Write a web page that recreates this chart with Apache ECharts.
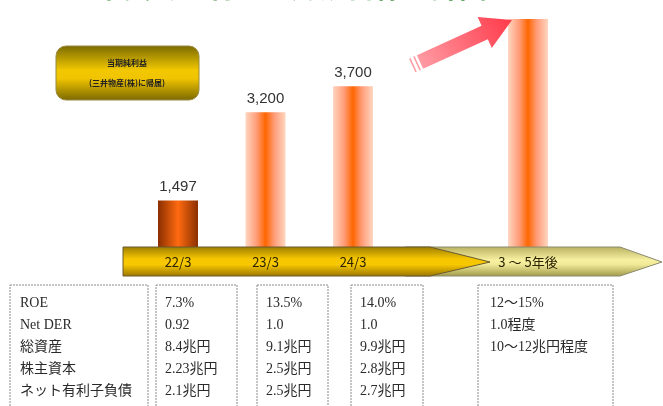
<!DOCTYPE html>
<html>
<head>
<meta charset="utf-8">
<script src="https://cdn.jsdelivr.net/npm/echarts@6/dist/echarts.min.js"></script>
<style>
html,body{margin:0;padding:0;background:#fff;}
#c{width:663px;height:406px;}
</style>
</head>
<body>
<div id="c"></div>
<script>
// ---- data ----
var categories = ['22/3', '23/3', '24/3', '', '3 ～ 5年後'];
var profitValues = [1497, 3200, 3700, null, 5000];
var valueLabels = ['1,497', '3,200', '3,700', '', ''];
var legendLines = ['当期純利益', '(三井物産(株)に帰属)'];
var titleText = '中長期の利益・財務目標の計画';
var metricNames = ['ROE', 'Net DER', '総資産', '株主資本', 'ネット有利子負債'];
var col2203 = ['7.3%', '0.92', '8.4兆円', '2.23兆円', '2.1兆円'];
var col2303 = ['13.5%', '1.0', '9.1兆円', '2.5兆円', '2.5兆円'];
var col2403 = ['14.0%', '1.0', '9.9兆円', '2.8兆円', '2.7兆円'];
var colFuture = ['12～15%', '1.0程度', '10～12兆円程度'];

var chart = echarts.init(document.getElementById('c'));

function barGrad(dark) {
  if (dark) {
    return new echarts.graphic.LinearGradient(0, 0, 1, 0, [
      {offset: 0, color: '#8a2e00'}, {offset: 0.5, color: '#ff6a10'}, {offset: 1, color: '#8a3000'}
    ]);
  }
  return new echarts.graphic.LinearGradient(0, 0, 1, 0, [
    {offset: 0, color: '#ffd6c0'}, {offset: 0.28, color: '#ff9c78'}, {offset: 0.5, color: '#ff6600'},
    {offset: 0.72, color: '#ff9c78'}, {offset: 1, color: '#ffd6c0'}
  ]);
}

var barData = profitValues.map(function (v, i) {
  return {
    value: v,
    itemStyle: {color: barGrad(i === 0)},
    label: {show: !!valueLabels[i], formatter: valueLabels[i]}
  };
});

var serifFont = '"Liberation Serif", "Noto Sans CJK JP", serif';
var cols = [
  {x0: 10, x1: 148, tx: 20, rows: metricNames},
  {x0: 156, x1: 237, tx: 165, rows: col2203},
  {x0: 257, x1: 328, tx: 266, rows: col2303},
  {x0: 351, x1: 423, tx: 360, rows: col2403},
  {x0: 478, x1: 613, tx: 490, rows: colFuture}
];
var rowY = [303, 325, 347, 369, 391];
var graphics = [];

// title (mostly cut off at top)
graphics.push({type: 'text', x: 95, y: 1.5, z: 5,
  style: {text: titleText, fill: '#3a8f3a', font: 'bold 28px "Noto Sans CJK JP"', textVerticalAlign: 'bottom'}});

// legend box
graphics.push({type: 'rect', shape: {x: 56, y: 46, width: 143, height: 54, r: 10}, z: 5,
  style: {fill: new echarts.graphic.LinearGradient(0, 0, 0, 1, [
    {offset: 0, color: '#7a6a00'}, {offset: 0.45, color: '#f2c800'}, {offset: 0.6, color: '#f0c400'}, {offset: 1, color: '#7a6800'}
  ]), stroke: '#9a8a40', lineWidth: 1}});
graphics.push({type: 'text', x: 127, y: 63, z: 6,
  style: {text: legendLines[0], fill: '#222', font: 'bold 8px "Noto Sans CJK JP"', textAlign: 'center', textVerticalAlign: 'middle'}});
graphics.push({type: 'text', x: 127, y: 83, z: 6,
  style: {text: legendLines[1], fill: '#222', font: 'bold 8px "Noto Sans CJK JP"', textAlign: 'center', textVerticalAlign: 'middle'}});

// pale arrow
graphics.push({type: 'polygon', z: 3,
  shape: {points: [[405, 247], [620, 247], [662, 262], [620, 276], [405, 276]]},
  style: {fill: new echarts.graphic.LinearGradient(0, 0, 0, 1, [
    {offset: 0, color: '#b8b060'}, {offset: 0.45, color: '#f6f0a0'}, {offset: 0.6, color: '#f0ea98'}, {offset: 1, color: '#a09848'}
  ]), stroke: '#8a8a70', lineWidth: 1}});
// golden arrow
graphics.push({type: 'polygon', z: 4,
  shape: {points: [[123, 247], [430, 247], [490, 262], [430, 276], [123, 276]]},
  style: {fill: new echarts.graphic.LinearGradient(0, 0, 0, 1, [
    {offset: 0, color: '#9a7c00'}, {offset: 0.4, color: '#f4c400'}, {offset: 0.6, color: '#f8c800'}, {offset: 1, color: '#9a7400'}
  ]), stroke: '#6a5a30', lineWidth: 1}});

// red arrow
(function () {
  var T = [420, 62], P = [512, 20];
  var dx = P[0] - T[0], dy = P[1] - T[1], L = Math.sqrt(dx * dx + dy * dy);
  var u = [dx / L, dy / L], n = [-u[1], u[0]];
  function pt(base, a, b) { return [base[0] + u[0] * a + n[0] * b, base[1] + u[1] * a + n[1] * b]; }
  var hl = 30, sw = 7.5, hw = 17;
  var grad = new echarts.graphic.LinearGradient(0, 1, 1, 0, [
    {offset: 0, color: '#ffa0a8'}, {offset: 1, color: '#ff3848'}
  ]);
  graphics.push({type: 'polygon', z: 5, shape: {points: [
    pt(T, 0, -sw), pt(T, L - hl, -sw), pt(T, L - hl, -hw), P, pt(T, L - hl, hw), pt(T, L - hl, sw), pt(T, 0, sw)
  ]}, style: {fill: grad}});
  [[-4, -2.5], [-8.5, -7]].forEach(function (s) {
    graphics.push({type: 'polygon', z: 5, shape: {points: [
      pt(T, s[0], -sw), pt(T, s[1], -sw), pt(T, s[1], sw), pt(T, s[0], sw)
    ]}, style: {fill: '#ff98a0'}});
  });
})();

// table
cols.forEach(function (c) {
  graphics.push({type: 'rect', z: 2, shape: {x: c.x0, y: 285, width: c.x1 - c.x0, height: 140},
    style: {fill: 'none', stroke: '#8a8a8a', lineWidth: 1, lineDash: [2, 1]}});
  c.rows.forEach(function (t, i) {
    graphics.push({type: 'text', x: c.tx, y: rowY[i], z: 3,
      style: {text: t, fill: '#2a2a2a', font: '14px ' + serifFont, textVerticalAlign: 'middle'}});
  });
});

chart.setOption({
  animation: false,
  grid: {left: 134.25, width: 437.5, top: 19, bottom: 406 - 247},
  xAxis: {
    type: 'category', data: categories, z: 10,
    axisLine: {show: false}, axisTick: {show: false},
    axisLabel: {color: '#2a2200', fontSize: 13, margin: 9, fontFamily: '"Noto Sans CJK JP"', interval: 0}
  },
  yAxis: {type: 'value', min: 600, max: 5000, show: false, splitLine: {show: false}},
  series: [{
    type: 'bar', data: barData, barWidth: 40, z: 2,
    label: {position: 'top', distance: 6, color: '#333', fontSize: 15, fontFamily: 'Liberation Sans'}
  }],
  graphic: graphics
});
</script>
</body>
</html>
